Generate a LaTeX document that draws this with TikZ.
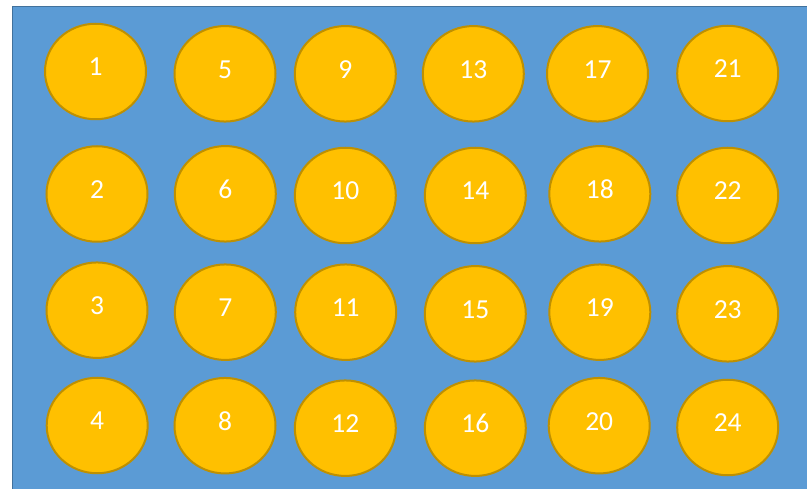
\documentclass[tikz,border=0pt]{standalone}
\usepackage{fontspec}
\setmainfont{Carlito}
\usetikzlibrary{shapes.geometric}
\definecolor{bgblue}{HTML}{5B9BD5}
\definecolor{bgedge}{HTML}{41719C}
\definecolor{discfill}{HTML}{FFC000}
\definecolor{discedge}{HTML}{BF9000}
\tikzset{
  disc/.style={ellipse, draw=discedge, fill=discfill, line width=2pt,
    minimum width=101pt, minimum height=95.5pt, inner sep=0pt,
    text=white, font=\fontsize{27.5}{33}\selectfont, text depth=9pt},
  panel/.style={draw=bgedge, fill=bgblue, line width=1.6pt}
}
\begin{document}
\begin{tikzpicture}[x=1pt,y=-1pt]
\useasboundingbox (0,0) rectangle (807,489);
\clip (0,0) rectangle (807,489);
\fill[white] (0,0) rectangle (807,489);
\draw[panel] (12.5,6.5) rectangle (815,500);
\node[disc] (n1)  at (95.5,71.5)  {1};
\node[disc] (n2)  at (97,194)     {2};
\node[disc] (n3)  at (97,310.2)   {3};
\node[disc] (n4)  at (97.2,425.5) {4};
\node[disc] (n5)  at (225,73.8)   {5};
\node[disc] (n6)  at (225.3,193.8){6};
\node[disc] (n7)  at (225.3,312.2){7};
\node[disc] (n8)  at (225,425.7)  {8};
\node[disc] (n9)  at (345.3,73.8) {9};
\node[disc] (n10) at (345.3,195.5){10};
\node[disc] (n11) at (345.7,312.2){11};
\node[disc] (n12) at (345.3,428.2){12};
\node[disc] (n13) at (473.3,73.8) {13};
\node[disc] (n14) at (475.3,195.5){14};
\node[disc] (n15) at (475.3,313.8){15};
\node[disc] (n16) at (475.3,428.2){16};
\node[disc] (n17) at (597.5,73.8) {17};
\node[disc] (n18) at (599.8,193.8){18};
\node[disc] (n19) at (599.8,312.2){19};
\node[disc] (n20) at (599.2,425.7){20};
\node[disc] (n21) at (727.7,73.5) {21};
\node[disc] (n22) at (727.7,195.5){22};
\node[disc] (n23) at (727.7,313.8){23};
\node[disc] (n24) at (727.7,427.5){24};
\end{tikzpicture}
\end{document}
